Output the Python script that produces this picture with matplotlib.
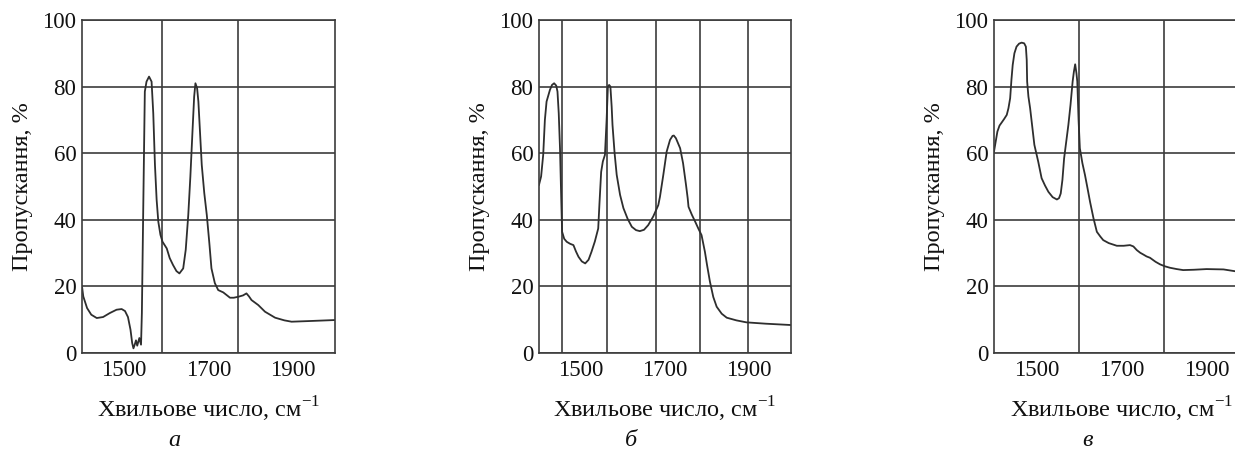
'''
IR transmission spectra, three samples (a, b, v)
'''
import matplotlib.pyplot as plt
from matplotlib.ticker import FixedLocator

plt.rcParams['font.family'] = ['Liberation Serif', 'DejaVu Serif']
plt.rcParams['mathtext.fontset'] = 'custom'
plt.rcParams['mathtext.rm'] = 'Liberation Serif'

# spectrum a
wave_a = [1400, 1403, 1412, 1422, 1435, 1450, 1466, 1482, 1494, 1502, 1509, 1515, 1519, 1522,
          1525, 1528, 1531, 1536, 1540, 1542, 1545, 1549, 1553, 1559, 1565, 1569, 1573, 1577,
          1581, 1586, 1591, 1601, 1608, 1616, 1624, 1631, 1640, 1646, 1652, 1657, 1662, 1666,
          1669, 1673, 1676, 1680, 1684, 1690, 1696, 1702, 1707, 1715, 1723, 1735, 1745, 1751,
          1760, 1771, 1782, 1790, 1796, 1802, 1818, 1834, 1858, 1880, 1897, 1940, 2000]
trans_a = [20, 17, 13.5, 11.5, 10.5, 10.8, 12, 13, 13.2, 12.6, 10.8, 7, 3, 1.4,
           2.5, 3.8, 2.2, 4.5, 2.5, 12, 41, 78.5, 81.5, 83, 81.5, 72, 56.5, 46,
           39.4, 35.5, 33.4, 31.4, 28.5, 26.4, 24.6, 23.9, 25.4, 31, 41.4, 53, 66.5, 77,
           81, 79.5, 75.5, 66, 56.5, 48, 41.4, 33, 25.4, 21, 18.9, 18.2, 17.2, 16.6,
           16.6, 16.9, 17.3, 17.9, 17, 15.9, 14.4, 12.4, 10.6, 9.8, 9.4, 9.6, 9.9]

# spectrum b
wave_b = [1400, 1405, 1410, 1414, 1418, 1426, 1431, 1436, 1441, 1444, 1447, 1450, 1453, 1455,
          1460, 1466, 1474, 1482, 1488, 1494, 1502, 1510, 1518, 1525, 1533, 1541, 1544, 1548,
          1552, 1557, 1561, 1564, 1567, 1570, 1573, 1575, 1580, 1585, 1593, 1601, 1611, 1621,
          1631, 1640, 1650, 1660, 1672, 1684, 1688, 1696, 1704, 1712, 1718, 1721, 1726, 1736,
          1743, 1750, 1754, 1756, 1764, 1772, 1780, 1787, 1795, 1800, 1807, 1815, 1823, 1835,
          1847, 1870, 1894, 1940, 2000]
trans_b = [50.5, 53, 59.5, 70, 75.5, 79, 80.5, 81, 80.3, 78.5, 72, 61.5, 46, 36.4,
           34.3, 33.4, 32.8, 32.4, 30.5, 28.9, 27.5, 26.9, 28, 30.4, 33.5, 37.4, 45, 54.4,
           57.5, 59.5, 70, 80, 80.5, 80, 74, 68.5, 60, 53.5, 47.5, 43.5, 40.3, 37.9,
           36.9, 36.6, 37, 38.4, 41, 44.4, 46.9, 53.5, 60.5, 64, 65.2, 65.3, 64.5, 61.5,
           57, 50.5, 46.5, 43.9, 41.5, 39.4, 37.2, 35.4, 30.4, 26.5, 21.4, 16.8, 13.9, 11.8,
           10.6, 9.8, 9.2, 8.8, 8.4]

# spectrum v
wave_v = [1400, 1404, 1408, 1413, 1418, 1424, 1430, 1434, 1438, 1441, 1444, 1448, 1453, 1459,
          1465, 1471, 1475, 1477, 1478, 1481, 1485, 1490, 1495, 1504, 1512, 1520, 1528, 1538,
          1548, 1553, 1557, 1561, 1565, 1570, 1575, 1580, 1585, 1588, 1591, 1594, 1596, 1599,
          1602, 1608, 1614, 1620, 1626, 1634, 1642, 1650, 1657, 1670, 1689, 1705, 1720, 1728,
          1736, 1744, 1751, 1759, 1767, 1780, 1791, 1803, 1814, 1830, 1845, 1870, 1900, 1940,
          1970, 2000]
trans_v = [60.5, 63.5, 66.5, 68.3, 69.2, 70.3, 71.5, 73.5, 76.5, 82, 86.5, 90, 92, 92.9,
           93.2, 93, 92, 88, 81.5, 77, 73.5, 68, 62.5, 57.5, 52.5, 50.3, 48.4, 46.8,
           46.1, 46.5, 47.9, 52, 58.5, 63.5, 68.5, 74.5, 81.5, 84.5, 86.7, 84, 81.5, 70,
           61.5, 57, 53.5, 49.5, 45.4, 40.5, 36.4, 35, 33.9, 33, 32.2, 32.2, 32.4, 32,
           30.9, 30.1, 29.6, 29, 28.6, 27.4, 26.6, 26, 25.6, 25.2, 24.9, 25, 25.2, 25.1,
           24.5, 24]

x_ticks = [1500, 1700, 1900]
y_ticks = [0, 20, 40, 60, 80, 100]
# vertical grid lines are drawn freehand in the original, not at the labels
grid_a = [1590, 1770]
grid_b = [1455, 1562, 1679, 1783, 1898]
grid_v = [1500, 1600, 1700, 1800, 1900]

panel_names = ['а', 'б', 'в']
X_LABEL = 'Хвильове число, см$^{-1}$'
Y_LABEL = 'Пропускання, %'
LINE = '#2e2e2e'
GRID = '#3c3c3c'
TXT = '#111111'
FS = 16.5
LFS = 17.5


def draw_panel(ax, wave, trans, grid_x, name):
    ax.plot(wave, trans, color=LINE, lw=1.3)
    ax.set_xlim(1400, 2000)
    ax.set_ylim(0, 100)
    ax.set_xticks(x_ticks)
    ax.set_yticks(y_ticks)
    ax.xaxis.set_minor_locator(FixedLocator(grid_x))
    ax.grid(which='minor', axis='x', color=GRID, lw=1.2)
    ax.grid(which='major', axis='y', color=GRID, lw=1.2)
    ax.tick_params(which='both', length=0, labelsize=FS, colors=TXT)
    ax.tick_params(axis='x', pad=5)
    ax.tick_params(axis='y', pad=4)
    for sp in ax.spines.values():
        sp.set_color(GRID)
        sp.set_linewidth(1.2)
    ax.set_xlabel(X_LABEL, fontsize=LFS, labelpad=10, color=TXT)
    ax.set_ylabel(Y_LABEL, fontsize=LFS, labelpad=7, color=TXT)
    ax.text(0.365, -0.262, name, transform=ax.transAxes, fontsize=FS + 1,
            style='italic', ha='center', va='center', color=TXT)


def main():
    fig = plt.figure(figsize=(12.35, 4.5), dpi=100)
    bottom = 97 / 450
    height = 333 / 450
    ax_a = fig.add_axes([82 / 1235, bottom, 253 / 1235, height])
    ax_b = fig.add_axes([539 / 1235, bottom, 252 / 1235, height])
    ax_v = fig.add_axes([994 / 1235, bottom, 255 / 1235, height])

    draw_panel(ax_a, wave_a, trans_a, grid_a, panel_names[0])
    draw_panel(ax_b, wave_b, trans_b, grid_b, panel_names[1])
    draw_panel(ax_v, wave_v, trans_v, grid_v, panel_names[2])

    fig.savefig('out.png', dpi=100)


if __name__ == "__main__":
    main()
